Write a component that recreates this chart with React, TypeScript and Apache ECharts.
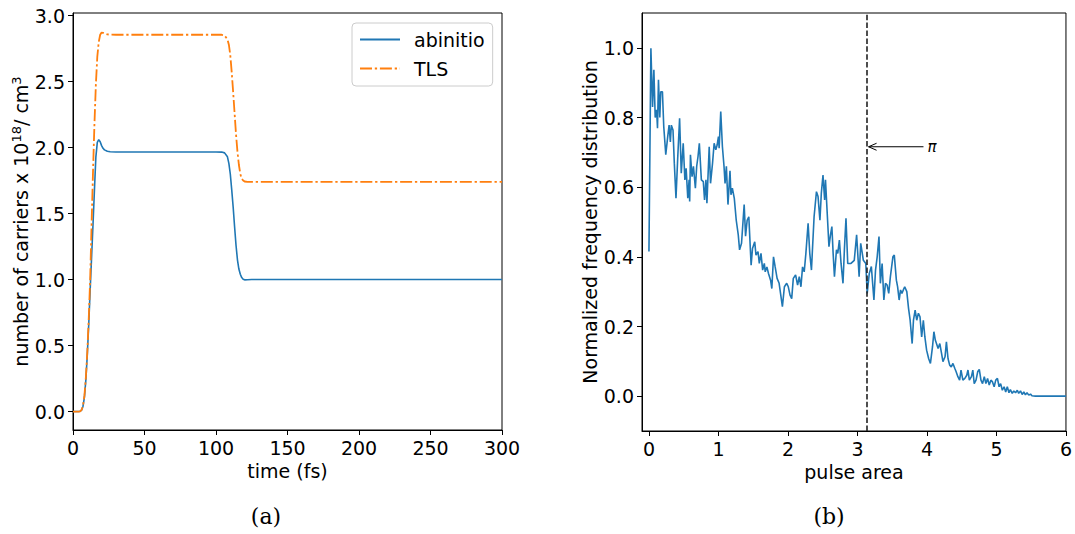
import React, { useEffect, useRef } from "react";
import * as echarts from "echarts";

// ---------- Panel (a): number of carriers vs time ----------
const timeFs = [0, 2, 4, 5, 6, 7, 8, 9, 10, 11, 12, 13, 14, 15, 16, 17, 18, 19, 20, 21, 22, 24, 26, 30, 50, 80, 100, 104, 106, 108, 109, 110, 111, 112, 113, 114, 115, 116, 117, 118, 119, 120, 122, 125, 150, 200, 250, 300];
const abinitio = [0, 0, 0, 0.002, 0.01, 0.04, 0.11, 0.24, 0.43, 0.66, 0.92, 1.17, 1.42, 1.68, 1.93, 2.04, 2.06, 2.045, 2.015, 1.995, 1.983, 1.972, 1.968, 1.967, 1.967, 1.967, 1.967, 1.966, 1.96, 1.93, 1.88, 1.8, 1.68, 1.55, 1.4, 1.26, 1.15, 1.08, 1.04, 1.015, 1.003, 0.998, 0.999, 1.0, 1.0, 1.0, 1.0, 1.0];
const tls = [0, 0, 0, 0.002, 0.012, 0.045, 0.12, 0.26, 0.45, 0.7, 1.0, 1.42, 1.82, 2.18, 2.48, 2.69, 2.8, 2.855, 2.872, 2.87, 2.865, 2.858, 2.856, 2.855, 2.855, 2.855, 2.855, 2.855, 2.85, 2.82, 2.78, 2.7, 2.57, 2.42, 2.26, 2.1, 1.97, 1.87, 1.8, 1.765, 1.75, 1.743, 1.74, 1.74, 1.74, 1.74, 1.74, 1.74];
const leftXTicks = [0, 50, 100, 150, 200, 250, 300];
const leftYTicks = [0, 0.5, 1.0, 1.5, 2.0, 2.5, 3.0];

// ---------- Panel (b): normalized frequency distribution vs pulse area ----------
const pulseArea = [0.0, 0.028, 0.052, 0.071, 0.09, 0.11, 0.123, 0.137, 0.156, 0.17, 0.194, 0.213, 0.242, 0.27, 0.29, 0.308, 0.322, 0.346, 0.365, 0.389, 0.413, 0.441, 0.465, 0.493, 0.517, 0.535, 0.559, 0.578, 0.586, 0.597, 0.62, 0.64, 0.668, 0.687, 0.706, 0.725, 0.754, 0.782, 0.8, 0.82, 0.834, 0.867, 0.886, 0.915, 0.938, 0.962, 0.981, 1.0, 1.01, 1.033, 1.057, 1.08, 1.095, 1.114, 1.137, 1.166, 1.18, 1.2, 1.228, 1.256, 1.285, 1.304, 1.332, 1.37, 1.39, 1.413, 1.437, 1.47, 1.49, 1.522, 1.54, 1.569, 1.588, 1.612, 1.636, 1.66, 1.673, 1.697, 1.72, 1.75, 1.768, 1.792, 1.816, 1.844, 1.873, 1.92, 1.949, 1.982, 2.005, 2.03, 2.054, 2.077, 2.11, 2.139, 2.163, 2.187, 2.21, 2.234, 2.258, 2.29, 2.314, 2.338, 2.376, 2.41, 2.433, 2.46, 2.48, 2.504, 2.528, 2.54, 2.565, 2.59, 2.612, 2.632, 2.65, 2.669, 2.698, 2.717, 2.74, 2.764, 2.792, 2.812, 2.835, 2.86, 2.907, 2.954, 2.988, 3.0, 3.024, 3.047, 3.085, 3.12, 3.14, 3.17, 3.2, 3.237, 3.26, 3.284, 3.31, 3.33, 3.355, 3.38, 3.403, 3.427, 3.45, 3.474, 3.51, 3.53, 3.56, 3.578, 3.6, 3.62, 3.64, 3.66, 3.68, 3.71, 3.735, 3.758, 3.787, 3.806, 3.83, 3.853, 3.877, 3.9, 3.924, 3.948, 3.97, 3.995, 4.024, 4.05, 4.08, 4.1, 4.12, 4.137, 4.16, 4.185, 4.21, 4.23, 4.26, 4.28, 4.303, 4.327, 4.35, 4.374, 4.4, 4.42, 4.445, 4.47, 4.49, 4.517, 4.545, 4.573, 4.59, 4.61, 4.64, 4.66, 4.68, 4.706, 4.73, 4.753, 4.777, 4.8, 4.825, 4.848, 4.872, 4.896, 4.92, 4.943, 4.967, 4.99, 5.014, 5.038, 5.06, 5.085, 5.11, 5.133, 5.156, 5.18, 5.2, 5.227, 5.25, 5.275, 5.3, 5.32, 5.346, 5.37, 5.394, 5.417, 5.44, 5.465, 5.49, 5.51, 5.56, 6.0];
const freqDist = [0.415, 0.999, 0.83, 0.937, 0.8, 0.822, 0.769, 0.908, 0.8, 0.874, 0.874, 0.774, 0.693, 0.745, 0.778, 0.73, 0.778, 0.764, 0.669, 0.568, 0.68, 0.798, 0.64, 0.726, 0.621, 0.654, 0.568, 0.621, 0.559, 0.693, 0.63, 0.66, 0.597, 0.66, 0.688, 0.726, 0.621, 0.616, 0.563, 0.621, 0.554, 0.716, 0.611, 0.669, 0.726, 0.707, 0.721, 0.745, 0.712, 0.817, 0.716, 0.66, 0.611, 0.66, 0.55, 0.647, 0.578, 0.597, 0.568, 0.505, 0.463, 0.42, 0.439, 0.55, 0.459, 0.505, 0.515, 0.376, 0.424, 0.443, 0.405, 0.415, 0.381, 0.41, 0.362, 0.381, 0.357, 0.371, 0.352, 0.333, 0.309, 0.4, 0.371, 0.338, 0.324, 0.257, 0.314, 0.324, 0.314, 0.29, 0.28, 0.338, 0.348, 0.319, 0.343, 0.314, 0.371, 0.357, 0.41, 0.496, 0.41, 0.362, 0.515, 0.587, 0.573, 0.505, 0.582, 0.635, 0.563, 0.621, 0.525, 0.429, 0.463, 0.487, 0.41, 0.343, 0.42, 0.41, 0.448, 0.381, 0.324, 0.42, 0.511, 0.381, 0.381, 0.39, 0.463, 0.424, 0.343, 0.439, 0.39, 0.381, 0.295, 0.352, 0.372, 0.276, 0.362, 0.4, 0.458, 0.324, 0.381, 0.276, 0.324, 0.319, 0.295, 0.343, 0.4, 0.405, 0.333, 0.314, 0.276, 0.305, 0.295, 0.305, 0.314, 0.3, 0.252, 0.218, 0.151, 0.218, 0.247, 0.218, 0.238, 0.228, 0.17, 0.218, 0.17, 0.132, 0.108, 0.094, 0.142, 0.185, 0.161, 0.151, 0.137, 0.151, 0.123, 0.099, 0.113, 0.156, 0.108, 0.089, 0.084, 0.094, 0.08, 0.07, 0.056, 0.046, 0.075, 0.046, 0.051, 0.06, 0.075, 0.046, 0.056, 0.075, 0.036, 0.046, 0.07, 0.077, 0.046, 0.036, 0.056, 0.036, 0.051, 0.032, 0.046, 0.041, 0.027, 0.046, 0.051, 0.027, 0.036, 0.017, 0.027, 0.012, 0.027, 0.01, 0.019, 0.008, 0.015, 0.01, 0.017, 0.008, 0.015, 0.005, 0.012, 0.004, 0.01, 0.003, 0.006, 0.001, 0.0, 0.0];
const rightXTicks = [0, 1, 2, 3, 4, 5, 6];
const rightYTicks = [0, 0.2, 0.4, 0.6, 0.8, 1.0];
const piMarker = Math.PI;
// annotation: [text x, y, arrow tip x]
const piAnnotation = [[3.95, 0.716, 3.16]];

const FONT = "DejaVu Sans";
const FS = 19;
const BLUE = "#1f77b4";
const ORANGE = "#ff7f0e";

function axisCommon(ticks: number[], fmt: (v: number) => string) {
  return {
    type: "value" as const,
    axisLine: { show: true, onZero: false, lineStyle: { color: "#000", width: 1 } },
    axisTick: { show: true, length: 5, customValues: ticks, lineStyle: { color: "#000", width: 1 } },
    axisLabel: {
      customValues: ticks,
      color: "#000",
      fontFamily: FONT,
      fontSize: FS,
      margin: 8,
      formatter: (v: number) => fmt(v),
    },
    splitLine: { show: false },
    nameLocation: "middle" as const,
    nameTextStyle: { fontFamily: FONT, fontSize: FS, color: "#000" },
  };
}

export default function App() {
  const ref = useRef<HTMLDivElement>(null);
  useEffect(() => {
    const chart = echarts.init(ref.current!, null, { renderer: "svg" });
    const option: any = {
      animation: false,
      backgroundColor: "#fff",
      grid: [
        { left: 73, top: 13, width: 429, height: 417, show: true, borderColor: "#000", borderWidth: 1, backgroundColor: "transparent" },
        { left: 642, top: 13, width: 429, height: 418, show: true, borderColor: "#000", borderWidth: 1, backgroundColor: "transparent" },
      ],
      xAxis: [
        {
          ...axisCommon(leftXTicks, (v) => String(v)),
          gridIndex: 0,
          min: 0,
          max: 300,
          name: "time (fs)",
          nameGap: 26,
        },
        {
          ...axisCommon(rightXTicks, (v) => String(v)),
          gridIndex: 1,
          min: -0.1,
          max: 6,
          name: "pulse area",
          nameGap: 26,
        },
      ],
      yAxis: [
        {
          ...axisCommon(leftYTicks, (v) => v.toFixed(1)),
          gridIndex: 0,
          min: -0.14,
          max: 3.02,
          name: "number of carriers x 10{sup|18}/ cm{sup|3}",
          nameGap: 38,
          nameTextStyle: {
            fontFamily: FONT,
            fontSize: FS,
            color: "#000",
            rich: {
              sup: { fontFamily: FONT, fontSize: 13, color: "#000", verticalAlign: "top", padding: [0, 0, 9, 0] },
            },
          },
        },
        {
          ...axisCommon(rightYTicks, (v) => v.toFixed(1)),
          gridIndex: 1,
          min: -0.1,
          max: 1.1,
          name: "Normalized frequency distribution",
          nameGap: 42,
        },
      ],
      legend: {
        data: ["abinitio", "TLS"],
        orient: "vertical",
        left: 352,
        top: 23,
        padding: [7, 8, 8, 7],
        itemGap: 10,
        itemWidth: 40,
        itemHeight: 18,
        backgroundColor: "rgba(255,255,255,0.8)",
        borderColor: "#cccccc",
        borderWidth: 1,
        borderRadius: 4,
        itemStyle: { color: "rgba(0,0,0,0)", borderWidth: 0, opacity: 0 },
        textStyle: { fontFamily: FONT, fontSize: FS, color: "#000", padding: [0, 0, 0, 9] },
      },
      series: [
        {
          name: "abinitio",
          type: "line",
          xAxisIndex: 0,
          yAxisIndex: 0,
          data: timeFs.map((t, i) => [t, abinitio[i]]),
          symbol: "none",
          showSymbol: false,
          itemStyle: { color: BLUE },
          lineStyle: { color: BLUE, width: 1.6 },
        },
        {
          name: "TLS",
          type: "line",
          xAxisIndex: 0,
          yAxisIndex: 0,
          data: timeFs.map((t, i) => [t, tls[i]]),
          symbol: "none",
          showSymbol: false,
          itemStyle: { color: ORANGE },
          lineStyle: { color: ORANGE, width: 1.8, type: [12, 2.8, 2.3, 2.8] },
        },
        {
          name: "dist",
          type: "line",
          xAxisIndex: 1,
          yAxisIndex: 1,
          data: pulseArea.map((x, i) => [x, freqDist[i]]),
          symbol: "none",
          showSymbol: false,
          itemStyle: { color: BLUE },
          lineStyle: { color: BLUE, width: 1.6 },
          markLine: {
            silent: true,
            symbol: "none",
            label: { show: false },
            lineStyle: { color: "#222", type: [5.5, 2.4], width: 1.6 },
            data: [{ xAxis: piMarker }],
          },
        },
        {
          name: "piAnnotation",
          type: "custom",
          xAxisIndex: 1,
          yAxisIndex: 1,
          silent: true,
          data: piAnnotation,
          renderItem: (params: any, api: any) => {
            const tail = api.coord([api.value(0), api.value(1)]);
            const tip = api.coord([api.value(2), api.value(1)]);
            return {
              type: "group",
              children: [
                { type: "line", shape: { x1: tail[0], y1: tail[1], x2: tip[0], y2: tip[1] }, style: { stroke: "#000", lineWidth: 1 } },
                {
                  type: "polyline",
                  shape: { points: [[tip[0] + 8, tip[1] - 3.5], [tip[0], tip[1]], [tip[0] + 8, tip[1] + 3.5]] },
                  style: { stroke: "#000", fill: "none", lineWidth: 1 },
                },
                {
                  type: "text",
                  x: tail[0] + 4,
                  y: tail[1],
                  style: { text: "π", fontFamily: FONT, fontStyle: "italic", fontSize: 15, fill: "#000", verticalAlign: "middle", align: "left" },
                },
              ],
            };
          },
        },
      ],
      graphic: [
        { type: "text", x: 266, y: 516, style: { text: "(a)", fontFamily: "DejaVu Serif", fontSize: 22, fill: "#000", align: "center", verticalAlign: "middle" } },
        { type: "text", x: 829, y: 516, style: { text: "(b)", fontFamily: "DejaVu Serif", fontSize: 22, fill: "#000", align: "center", verticalAlign: "middle" } },
      ],
    };
    chart.setOption(option);
    return () => chart.dispose();
  }, []);
  return (
    <div
      ref={ref}
      style={{ position: "absolute", left: 0, top: 0, width: 1075, height: 534, background: "#fff" }}
    />
  );
}
